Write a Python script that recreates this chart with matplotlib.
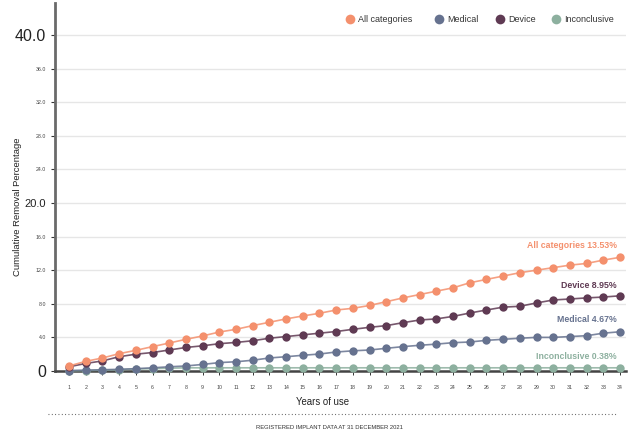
import matplotlib
matplotlib.use("Agg")
import matplotlib.pyplot as plt
from matplotlib.lines import Line2D

plt.rcParams['font.family'] = ['Liberation Sans', 'DejaVu Sans']

years = list(range(1, 35))
all_categories = [0.6, 1.15, 1.55, 2.06, 2.46, 2.9, 3.33, 3.77, 4.17, 4.64,
                  4.96, 5.4, 5.8, 6.2, 6.55, 6.87, 7.26, 7.46, 7.8, 8.25,
                  8.7, 9.1, 9.5, 9.9, 10.5, 10.9, 11.3, 11.7, 12.0, 12.3,
                  12.6, 12.8, 13.2, 13.53]
device = [0.5, 0.9, 1.2, 1.7, 2.0, 2.2, 2.5, 2.8, 3.0, 3.25,
          3.4, 3.6, 3.9, 4.1, 4.3, 4.5, 4.7, 4.96, 5.2, 5.4,
          5.75, 6.07, 6.2, 6.5, 6.9, 7.26, 7.6, 7.7, 8.1, 8.45,
          8.57, 8.7, 8.8, 8.95]
medical = [0.05, 0.1, 0.15, 0.2, 0.28, 0.38, 0.5, 0.6, 0.78, 1.0,
           1.1, 1.28, 1.55, 1.7, 1.87, 2.02, 2.26, 2.4, 2.5, 2.7,
           2.9, 3.06, 3.2, 3.37, 3.45, 3.65, 3.77, 3.9, 4.0, 4.0,
           4.1, 4.2, 4.5, 4.67]
inconclusive = [0.02, 0.05, 0.1, 0.15, 0.24, 0.28, 0.33, 0.38, 0.38, 0.38,
                0.38, 0.38, 0.38, 0.38, 0.38, 0.38, 0.38, 0.38, 0.38, 0.38,
                0.38, 0.38, 0.38, 0.38, 0.38, 0.38, 0.38, 0.38, 0.38, 0.38,
                0.38, 0.38, 0.38, 0.38]

series_names = ["All categories", "Medical", "Device", "Inconclusive"]
colors = {"All categories": "#F4906D", "Medical": "#66728F",
          "Device": "#5F3A53", "Inconclusive": "#8DB09F"}
end_labels = {"All categories": "All categories 13.53%", "Device": "Device 8.95%",
              "Medical": "Medical 4.67%", "Inconclusive": "Inconclusive 0.38%"}
y_ticks = [0, 4, 8, 12, 16, 20, 24, 28, 32, 36, 40]
y_tick_labels = ["0", "4.0", "8.0", "12.0", "16.0", "20.0", "24.0", "28.0", "32.0", "36.0", "40.0"]

W, H = 632, 436
fig = plt.figure(figsize=(W/100, H/100), dpi=100)
ax = fig.add_axes([55/W, 1-371/H, (626-55)/W, (371-3)/H])

data = {"All categories": all_categories, "Medical": medical,
        "Device": device, "Inconclusive": inconclusive}
order = ["Inconclusive", "Medical", "Device", "All categories"]
for i, name in enumerate(order):
    c = colors[name]
    ax.plot(years, data[name], color=c, lw=1.2, alpha=0.85, zorder=3+i, clip_on=False)
    ax.plot(years, data[name], 'o', color=c, ms=6.0, mec='none', zorder=3+i, clip_on=False)

offsets = {"All categories": 8.5, "Device": 7.3, "Medical": 8.5, "Inconclusive": 7.8}
for name in series_names:
    ax.annotate(end_labels[name], xy=(years[-1], data[name][-1]), xytext=(-2.5, offsets[name]),
                textcoords='offset points', ha='right', va='center', fontsize=6.3,
                fontweight='bold', color=colors[name])

ax.set_xlim(0.16, 34.36)
ax.set_ylim(0, 43.8)
ax.set_yticks(y_ticks)
ax.set_yticklabels(y_tick_labels)
for lab, v in zip(ax.get_yticklabels(), y_ticks):
    if v in (0, 40):
        lab.set_fontsize(11.5)
        lab.set_color('#222222')
    elif v == 20:
        lab.set_fontsize(8)
        lab.set_color('#222222')
    else:
        lab.set_fontsize(3.8)
        lab.set_color('#444444')
ax.tick_params(axis='y', length=3, width=0.8, color='#333333', pad=3.5)
ax.set_xticks(years)
ax.set_xticklabels([str(y) for y in years], fontsize=3.8, color='#444444')
ax.tick_params(axis='x', length=3, width=0.7, color='#333333', pad=7)

ax.grid(axis='y', color='#e6e6e6', lw=1)
ax.set_axisbelow(True)
for s in ['top', 'right']:
    ax.spines[s].set_visible(False)
ax.spines['left'].set_color('#6a6a6a')
ax.spines['left'].set_linewidth(2)
ax.spines['bottom'].set_color('#444444')
ax.spines['bottom'].set_linewidth(1.8)
ax.spines['bottom'].set_zorder(2.5)

fig.text(18/W, 1-207/H, "Cumulative Removal Percentage", fontsize=6.8, color='#222222',
         rotation=90, ha='center', va='center')
fig.text(322/W, 1-402/H, "Years of use", fontsize=6.9, color='#222222',
         ha='center', va='center')

# legend entries (marker x positions, text follows)
legend_marker_x = [350, 439, 500, 556]
legend_y = 1 - 19.5/H
for name, mx in zip(series_names, legend_marker_x):
    fig.add_artist(Line2D([mx/W], [legend_y], marker='o', ls='none', color=colors[name],
                          ms=7, mec='none'))
    fig.text((mx + 8)/W, legend_y, name, fontsize=6.5, color='#333333', ha='left', va='center')

fig.add_artist(Line2D([48/W, 616/W], [1-414/H, 1-414/H], color='#555555',
                      lw=0.8, ls=(0, (0.8, 2.2))))
fig.text(330/W, 1-427.5/H, "REGISTERED IMPLANT DATA AT 31 DECEMBER 2021", fontsize=4.25,
         color='#333333', ha='center', va='center')

fig.savefig("out.png", dpi=100)
